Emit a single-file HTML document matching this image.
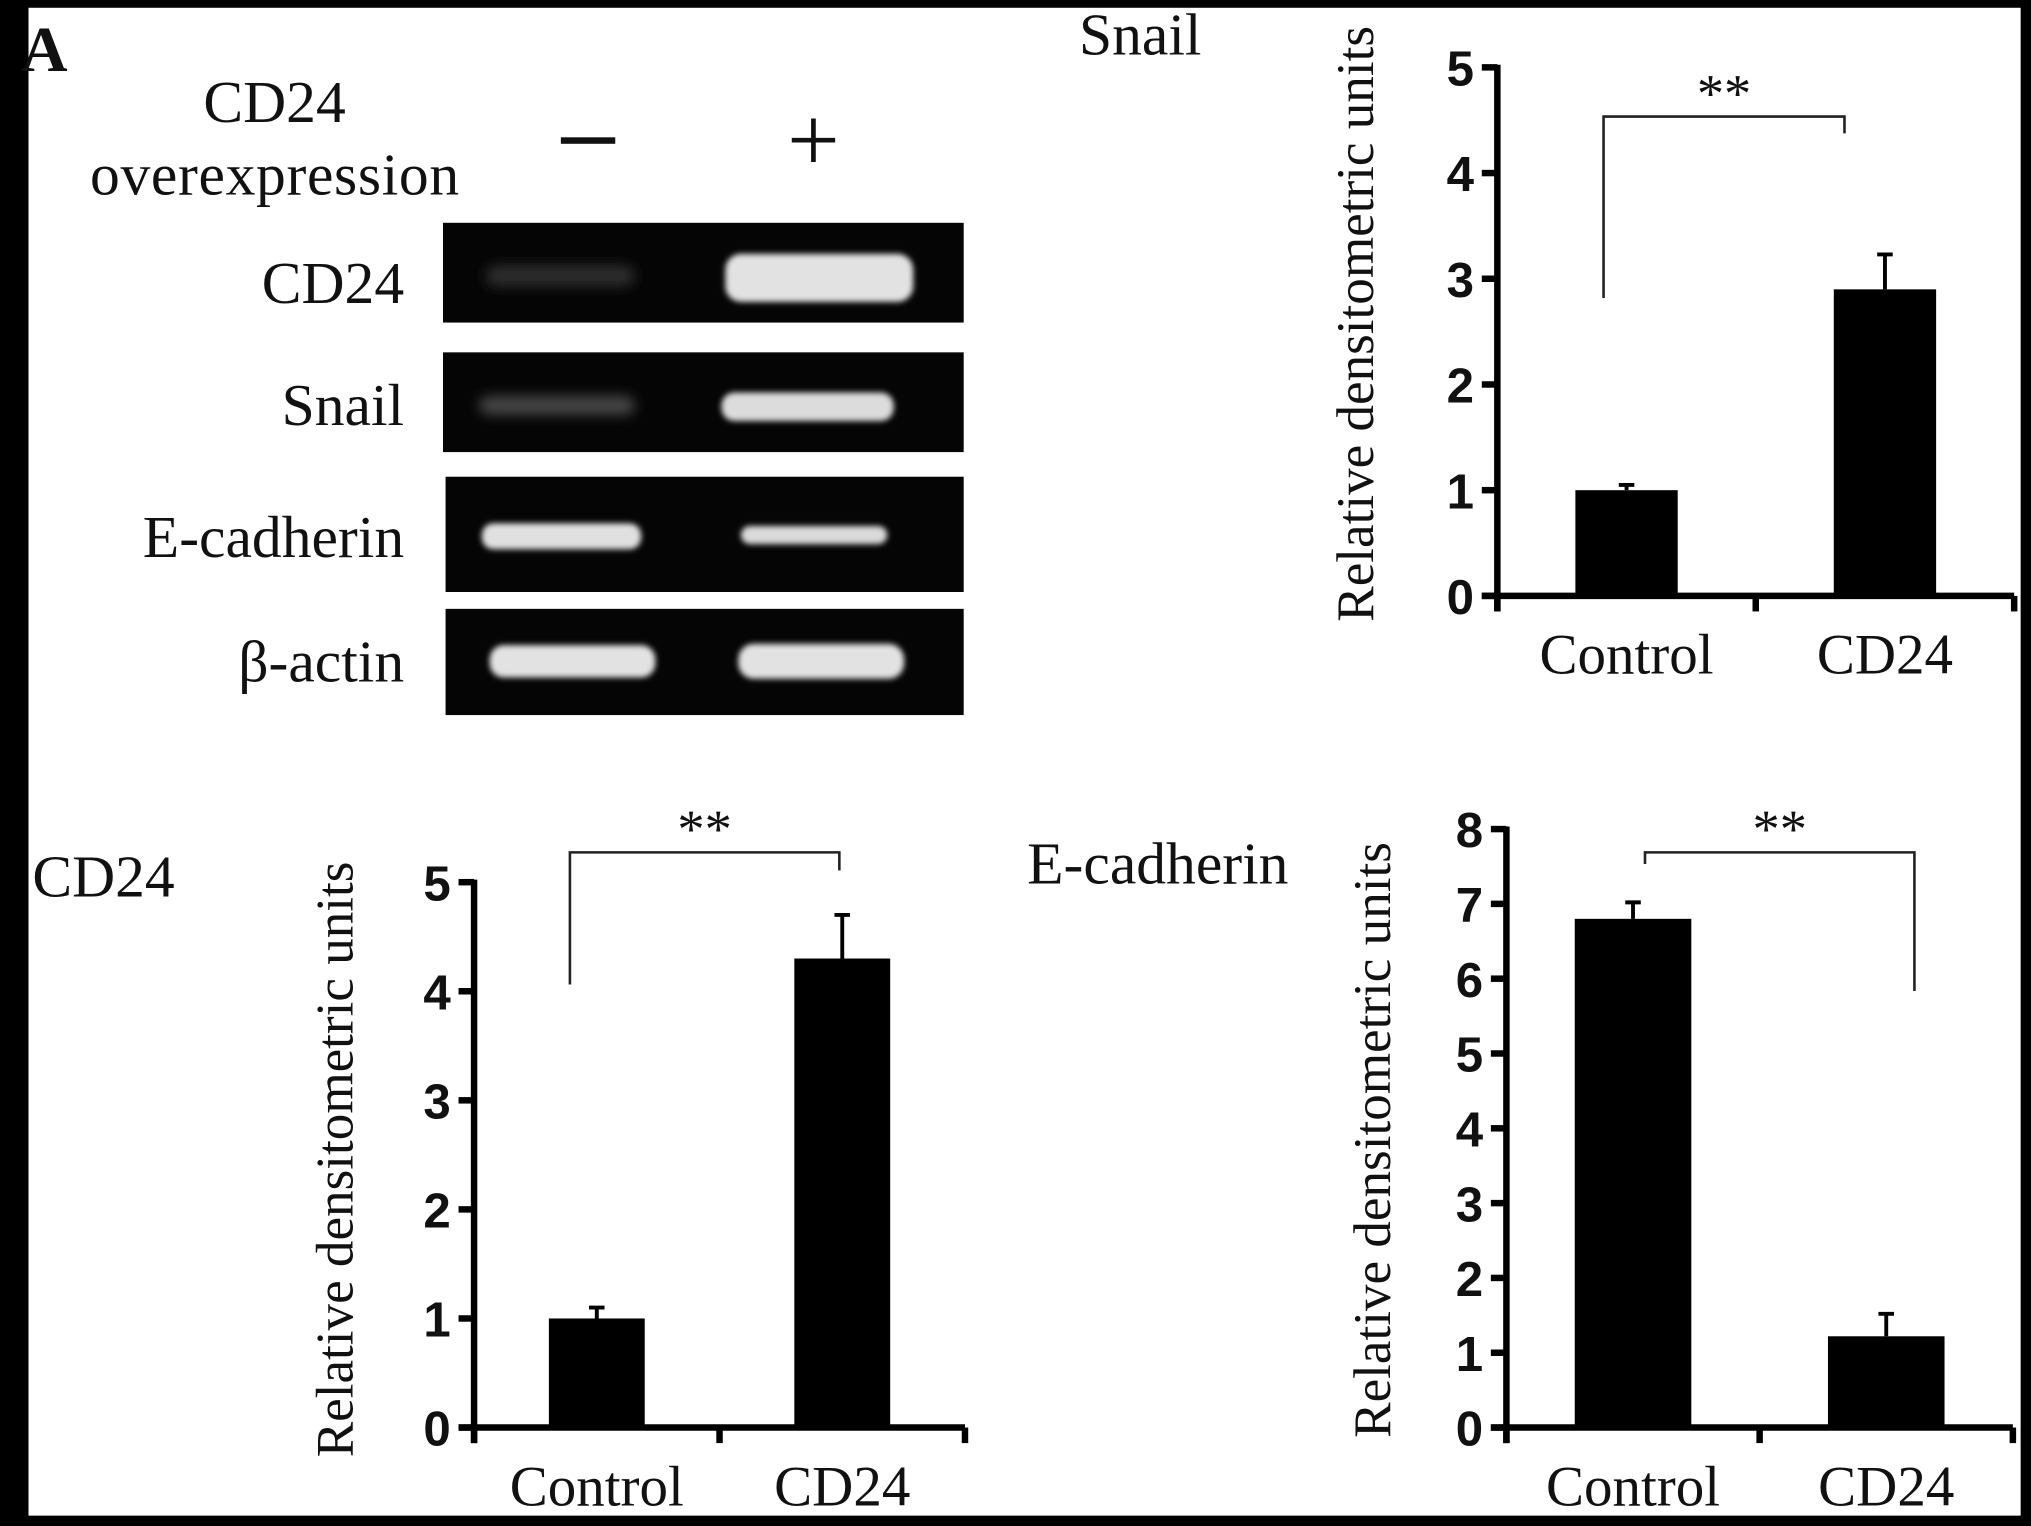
<!DOCTYPE html>
<html><head><meta charset="utf-8"><style>
html,body{margin:0;padding:0;background:#000;}
svg{display:block;}
.serif{font-family:"Liberation Serif",serif;fill:#111;}
.tick{font-family:"Liberation Sans",sans-serif;font-weight:bold;fill:#111;}
</style></head><body>
<svg id="fig" width="2031" height="1526" viewBox="0 0 1568 1178" preserveAspectRatio="none" xmlns="http://www.w3.org/2000/svg">
<defs><filter id="blur" x="-20%" y="-50%" width="140%" height="200%"><feGaussianBlur stdDeviation="2.2"/></filter>
<filter id="blur2" x="-20%" y="-80%" width="140%" height="260%"><feGaussianBlur stdDeviation="5"/></filter></defs>
<rect x="0" y="0" width="1568" height="1178" fill="#000"/>
<rect x="22" y="6" width="1538" height="1164" fill="#fff"/>
<text x="16" y="55" class="serif" font-size="50" font-weight="bold">A</text>
<text x="212" y="94" class="serif" font-size="46" text-anchor="middle">CD24</text>
<text x="212" y="150" class="serif" font-size="46" text-anchor="middle" textLength="285">overexpression</text>
<rect x="433" y="106" width="42" height="5" fill="#111"/>
<text x="628" y="132" class="serif" font-size="72" text-anchor="middle">+</text>
<g>
<rect x="342" y="172" width="402" height="77" fill="#050505"/>
<rect x="375" y="205" width="115" height="16" rx="8" fill="#2e2e2e" filter="url(#blur2)"/>
<rect x="560" y="196" width="145" height="37" rx="12" fill="#e2e2e2" filter="url(#blur)"/>
<text x="312" y="234" class="serif" font-size="46" text-anchor="end">CD24</text></g>
<g>
<rect x="342" y="272" width="402" height="77" fill="#050505"/>
<rect x="370" y="306" width="120" height="14" rx="7" fill="#4a4a4a" filter="url(#blur2)"/>
<rect x="557" y="303" width="133" height="22" rx="10" fill="#dcdcdc" filter="url(#blur)"/>
<text x="312" y="328" class="serif" font-size="46" text-anchor="end">Snail</text></g>
<g>
<rect x="344" y="368" width="400" height="89" fill="#050505"/>
<rect x="372" y="404" width="123" height="20" rx="9" fill="#e0e0e0" filter="url(#blur)"/>
<rect x="572" y="406" width="113" height="14" rx="7" fill="#dadada" filter="url(#blur)"/>
<text x="312" y="430" class="serif" font-size="46" text-anchor="end">E-cadherin</text></g>
<g>
<rect x="344" y="470" width="400" height="82" fill="#050505"/>
<rect x="378" y="498" width="128" height="25" rx="11" fill="#e2e2e2" filter="url(#blur)"/>
<rect x="570" y="497" width="128" height="27" rx="12" fill="#e2e2e2" filter="url(#blur)"/>
<text x="312" y="526" class="serif" font-size="46" text-anchor="end">β-actin</text></g>
<text x="833" y="42" class="serif" font-size="46">Snail</text>
<text x="25" y="692" class="serif" font-size="46">CD24</text>
<text x="793" y="682" class="serif" font-size="46">E-cadherin</text>
<g id="charts"></g>
</svg>
<script>
const NS='http://www.w3.org/2000/svg';
const categories=['Control','CD24'];
const snailValues=[1.0,2.9];
const snailErrors=[0.05,0.33];
const snailTicks=['0','1','2','3','4','5'];
const cd24Values=[1.0,4.3];
const cd24Errors=[0.1,0.4];
const cd24Ticks=['0','1','2','3','4','5'];
const ecadValues=[6.8,1.22];
const ecadErrors=[0.22,0.3];
const ecadTicks=['0','1','2','3','4','5','6','7','8'];

const root=document.getElementById('charts');
function mk(tag,attrs,parent){const e=document.createElementNS(NS,tag);for(const k in attrs)e.setAttribute(k,attrs[k]);(parent||root).appendChild(e);return e;}

function chart(o){
  const g=mk('g',{});
  
  
  const max=o.ticks.length-1;
  const y=v=>o.y0-(o.y0-o.yTop)*v/max;
  const x=i=>o.ax+(o.xEnd-o.ax)*(i+0.5)/categories.length;
  const ax=mk('line',{x1:o.ax,y1:o.yTop-2,x2:o.ax,y2:o.y0+12,stroke:'#000','stroke-width':5},g);
  
  
  const xa=mk('line',{x1:o.ax-12,y1:o.y0,x2:o.xEnd,y2:o.y0,stroke:'#000','stroke-width':5},g);
  
  
  for(let i=0;i<=categories.length;i++){
    const tx=o.ax+(o.xEnd-o.ax)*i/categories.length;
    mk('line',{x1:tx,y1:o.y0,x2:tx,y2:o.y0+12,stroke:'#000','stroke-width':5},g);
  }
  o.ticks.forEach((t,i)=>{
    mk('line',{x1:o.ax-12,y1:y(i),x2:o.ax,y2:y(i),stroke:'#000','stroke-width':5},g);
    const tl=mk('text',{x:o.ax-18,y:y(i)+14,'text-anchor':'end','font-size':38,class:'tick'},g);
    tl.textContent=t;
    
    
  });
  o.values.forEach((v,i)=>{
    const cx=x(i);
    const b=mk('rect',{x:cx-o.bw/2,y:y(v),width:o.bw,height:o.y0-y(v),fill:'#000'},g);
    
    
    const e=o.errors[i];
    const el=mk('path',{d:`M${cx},${y(v)} V${y(v+e)} M${cx-6},${y(v+e)} H${cx+6}`,stroke:'#000','stroke-width':3,fill:'none'},g);
    
    
    const cl=mk('text',{x:cx,y:o.y0+60,'text-anchor':'middle','font-size':44,class:'serif'},g);
    cl.textContent=categories[i];
    
    
  });
  const yt=mk('text',{x:0,y:0,'text-anchor':'middle','font-size':41,class:'serif',transform:`translate(${o.titleX},${o.titleY}) rotate(-90)`},g);
  yt.textContent='Relative densitometric units';
  
  
  const br=mk('path',{d:`M${o.br[0]},${o.br[1]} V${o.br[2]} H${o.br[3]} V${o.br[4]}`,stroke:'#222','stroke-width':2,fill:'none'},g);
  
  
  const st=mk('text',{x:(o.br[0]+o.br[3])/2,y:o.br[2]-4,'text-anchor':'middle','font-size':42,class:'serif'},g);
  st.textContent='**';
  
  
}
chart({name:'snail-chart',values:snailValues,errors:snailErrors,ticks:snailTicks,ax:1156,xEnd:1555,yTop:52,y0:460,bw:79,titleX:1060,titleY:250,br:[1238,230,90,1424,103]});
chart({name:'cd24-chart',values:cd24Values,errors:cd24Errors,ticks:cd24Ticks,ax:366,xEnd:745,yTop:681,y0:1102,bw:74,titleX:272,titleY:895,br:[440,760,658,648,672]});
chart({name:'e-cadherin-chart',values:ecadValues,errors:ecadErrors,ticks:ecadTicks,ax:1163,xEnd:1554,yTop:640,y0:1102,bw:90,titleX:1073,titleY:880,br:[1270,667,658,1478,765]});
</script>
</body></html>
